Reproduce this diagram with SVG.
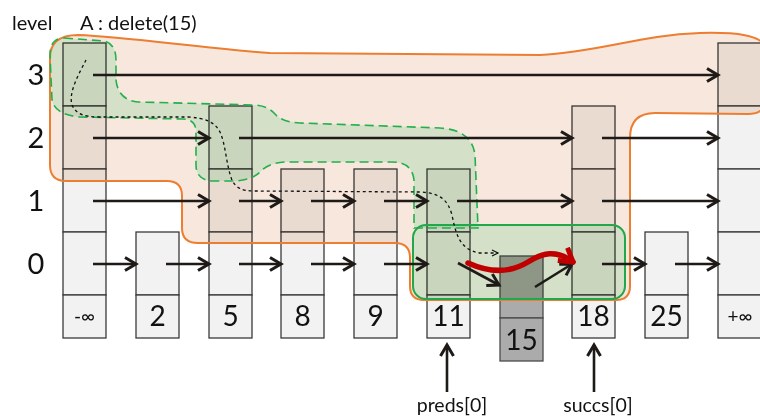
<svg xmlns="http://www.w3.org/2000/svg" width="760" height="417" viewBox="0 0 760 417">
<style>
.cell{fill:#f2f2f2;stroke:#3a3a3a;stroke-width:1.3}
.dark{fill:#ababab;stroke:#4a4a4a;stroke-width:1.3}
.t{font-family:Lato,"Liberation Sans",sans-serif;fill:#111}
.num{font-size:28px;text-anchor:middle}
.lvl{font-size:29px;text-anchor:middle}
.inf{font-size:19px;text-anchor:middle}
.arr{stroke:#1e1a17;stroke-width:2.6;fill:none;marker-end:url(#ah)}
.mul{mix-blend-mode:multiply;stroke:none}
</style>
<defs>
<marker id="ah" markerUnits="userSpaceOnUse" markerWidth="18" markerHeight="18" refX="14" refY="8" orient="auto">
<path d="M3,1.5 L14,8 L3,14.5" fill="none" stroke="#1e1a17" stroke-width="3"/>
</marker>
<marker id="ahs" markerUnits="userSpaceOnUse" markerWidth="10" markerHeight="10" refX="7" refY="4" orient="auto">
<path d="M1,1 L7,4 L1,7" fill="none" stroke="#111" stroke-width="1.2"/>
</marker>
<marker id="ahr" markerUnits="userSpaceOnUse" markerWidth="22" markerHeight="22" refX="16" refY="10" orient="auto">
<path d="M3,2 L16,10 L3,18" fill="none" stroke="#c00000" stroke-width="5" stroke-linejoin="round"/>
</marker>
<path id="orange-shape" d="M78,35 C130,37 200,48 270,53 L540,55 C600,52 640,35 700,33 C740,32 758,36 765,45 L765,100 Q765,114 748,114 L655,113 Q630,113 630,138 L630,286 Q630,300 616,300 L424,300 Q410,300 410,286 L410,258 Q410,243 395,243 L198,243 Q182,243 182,228 L182,196 Q182,181 167,181 L66,181 Q50,181 50,165 L50,58 Q50,35 78,35 Z"/>
<path id="green-shape" d="M64,38 L104,41 Q116,44 116,60 L116,80 Q118,100 138,102 L255,105 Q268,106 275,114 Q282,122 300,123 L440,128 Q472,130 475,155 L478,228 L414,228 L414,180 Q412,162 392,162 L285,162 Q268,163 260,172 Q252,180 235,181 L212,181 Q196,180 196,165 L196,132 Q196,119 182,119 L80,117 Q55,115 52,100 L50,55 Q50,38 64,38 Z"/>
<rect id="box-shape" x="413" y="225" width="212" height="74" rx="13"/>
</defs>

<g id="nodes">
<g id="n-neginf">
<rect class="cell" x="63" y="43" width="43" height="63"/>
<rect class="cell" x="63" y="106" width="43" height="63"/>
<rect class="cell" x="63" y="169" width="43" height="63"/>
<rect class="cell" x="63" y="232" width="43" height="63"/>
<rect class="cell" x="63" y="295" width="43" height="43"/>
<text class="t inf" x="84.5" y="323">-∞</text>
</g>
<g id="n2">
<rect class="cell" x="136" y="232" width="43" height="63"/>
<rect class="cell" x="136" y="295" width="43" height="43"/>
<text class="t num" x="157.5" y="326">2</text>
</g>
<g id="n5">
<rect class="cell" x="209" y="106" width="43" height="63"/>
<rect class="cell" x="209" y="169" width="43" height="63"/>
<rect class="cell" x="209" y="232" width="43" height="63"/>
<rect class="cell" x="209" y="295" width="43" height="43"/>
<text class="t num" x="230.5" y="326">5</text>
</g>
<g id="n8">
<rect class="cell" x="281" y="169" width="43" height="63"/>
<rect class="cell" x="281" y="232" width="43" height="63"/>
<rect class="cell" x="281" y="295" width="43" height="43"/>
<text class="t num" x="302.5" y="326">8</text>
</g>
<g id="n9">
<rect class="cell" x="354" y="169" width="43" height="63"/>
<rect class="cell" x="354" y="232" width="43" height="63"/>
<rect class="cell" x="354" y="295" width="43" height="43"/>
<text class="t num" x="375.5" y="326">9</text>
</g>
<g id="n11">
<rect class="cell" x="427" y="169" width="43" height="63"/>
<rect class="cell" x="427" y="232" width="43" height="63"/>
<rect class="cell" x="427" y="295" width="43" height="43"/>
<text class="t num" x="448.5" y="326">11</text>
</g>
<g id="n15">
<rect class="dark" x="500" y="256" width="43" height="62"/>
<rect class="dark" x="500" y="318" width="43" height="43"/>
<text class="t num" x="521.5" y="350">15</text>
</g>
<g id="n18">
<rect class="cell" x="572" y="106" width="43" height="63"/>
<rect class="cell" x="572" y="169" width="43" height="63"/>
<rect class="cell" x="572" y="232" width="43" height="63"/>
<rect class="cell" x="572" y="295" width="43" height="43"/>
<text class="t num" x="593.5" y="326">18</text>
</g>
<g id="n25">
<rect class="cell" x="645" y="232" width="43" height="63"/>
<rect class="cell" x="645" y="295" width="43" height="43"/>
<text class="t num" x="666.5" y="326">25</text>
</g>
<g id="n-posinf">
<rect class="cell" x="718" y="43" width="43" height="63"/>
<rect class="cell" x="718" y="106" width="43" height="63"/>
<rect class="cell" x="718" y="169" width="43" height="63"/>
<rect class="cell" x="718" y="232" width="43" height="63"/>
<rect class="cell" x="718" y="295" width="43" height="43"/>
<text class="t inf" x="740" y="323">+∞</text>
</g>
</g>

<g id="regions">
<use href="#orange-shape" class="mul" fill="#f7e7dd"/>
<use href="#green-shape" class="mul" fill="#dbf8e7"/>
<use href="#box-shape" class="mul" fill="#dbf8e7"/>
<use href="#orange-shape" fill="none" stroke="#ed7d31" stroke-width="2"/>
<use href="#green-shape" fill="none" stroke="#22b04c" stroke-width="1.6" stroke-dasharray="9,5"/>
<use href="#box-shape" fill="none" stroke="#22a84a" stroke-width="2"/>
</g>

<g id="connectors">
<line class="arr" x1="93" y1="75" x2="718" y2="75"/>
<line class="arr" x1="93" y1="138" x2="209" y2="138"/>
<line class="arr" x1="239" y1="138" x2="572" y2="138"/>
<line class="arr" x1="602" y1="138" x2="718" y2="138"/>
<line class="arr" x1="93" y1="201" x2="209" y2="201"/>
<line class="arr" x1="239" y1="201" x2="281" y2="201"/>
<line class="arr" x1="311" y1="201" x2="354" y2="201"/>
<line class="arr" x1="384" y1="201" x2="427" y2="201"/>
<line class="arr" x1="457" y1="201" x2="572" y2="201"/>
<line class="arr" x1="602" y1="201" x2="718" y2="201"/>
<line class="arr" x1="93" y1="264" x2="136" y2="264"/>
<line class="arr" x1="166" y1="264" x2="209" y2="264"/>
<line class="arr" x1="239" y1="264" x2="281" y2="264"/>
<line class="arr" x1="311" y1="264" x2="354" y2="264"/>
<line class="arr" x1="384" y1="264" x2="427" y2="264"/>
<line class="arr" x1="458" y1="263" x2="499" y2="285"/>
<line class="arr" x1="535" y1="287" x2="572" y2="264"/>
<line class="arr" x1="602" y1="264" x2="645" y2="264"/>
<line class="arr" x1="675" y1="264" x2="718" y2="264"/>
<line class="arr" x1="447" y1="392" x2="447" y2="345"/>
<line class="arr" x1="594" y1="392" x2="594" y2="345"/>
<path d="M86,60 C80,72 68,92 72,105 C76,114 84,117 100,117 L188,117 C205,118 215,122 220,132 C226,145 226,165 232,180 C236,188 242,191 255,191 L420,192 C440,193 448,200 452,215 C456,235 460,250 480,253 L498,253" fill="none" stroke="#111" stroke-width="1.3" stroke-dasharray="3,3" marker-end="url(#ahs)"/>
<path d="M468,263 C490,273 510,273 528,262 C542,253 556,249 573,262" fill="none" stroke="#c00000" stroke-width="5.5" stroke-linecap="round" marker-end="url(#ahr)"/>
</g>

<g id="labels">
<text class="t" x="12" y="30" font-size="20">level</text>
<text class="t" x="80" y="30" font-size="20">A : delete(15)</text>
<text class="t lvl" x="36" y="85">3</text>
<text class="t lvl" x="36" y="148">2</text>
<text class="t lvl" x="36" y="211">1</text>
<text class="t lvl" x="36" y="274">0</text>
<text class="t" x="452" y="412" font-size="19.5" text-anchor="middle">preds[0]</text>
<text class="t" x="598" y="412" font-size="19.5" text-anchor="middle">succs[0]</text>
</g>
</svg>
